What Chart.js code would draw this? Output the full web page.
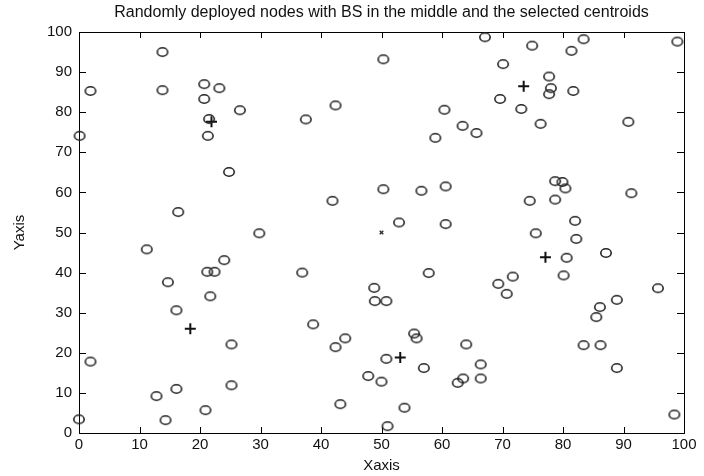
<!DOCTYPE html>
<html>
<head>
<meta charset="utf-8">
<title>Randomly deployed nodes</title>
<script src="https://cdn.jsdelivr.net/npm/chart.js@4.4.1/dist/chart.umd.min.js"></script>
<style>
    html, body { margin: 0; padding: 0; background: #fff; }
</style>
</head>
<body>
<canvas id="nodeChart" width="704" height="476"></canvas>
<script>
// node positions
const nodeX = [13.8, 1.9, 13.8, 20.7, 23.2, 20.7, 26.6, 21.5, 21.3, 0.1,
               37.5, 42.4, 24.8, 41.9, 16.4, 29.8, 50.3, 67.1, 74.9, 83.4,
               81.4, 98.9, 70.1, 77.7, 78.0, 77.7, 81.7, 69.6, 73.1, 60.4,
               76.3, 90.8, 63.4, 65.7, 58.9, 50.3, 56.6, 60.6, 78.7, 79.9,
               80.4, 91.3, 74.5, 78.7, 52.9, 60.6, 82.0, 75.5, 82.2, 80.6,
               87.1, 57.8, 71.7, 80.1, 69.3, 70.7, 48.8, 48.9, 50.8, 95.7,
               88.9, 86.1, 85.5, 55.4, 55.8, 64.0, 83.4, 86.2, 50.8, 57.0,
               66.4, 88.9, 47.8, 50.0, 63.5, 62.6, 66.4, 53.8, 51.0, 98.4,
               11.2, 24.0, 21.2, 22.4, 36.9, 14.7, 21.7, 16.1, 38.7, 25.2,
               42.4, 44.0, 1.9, 16.1, 25.2, 12.8, 20.9, 14.3, 0.0, 43.2];
const nodeY = [95.0, 85.3, 85.5, 87.0, 86.0, 83.3, 80.5, 78.3, 74.1, 74.1,
               78.2, 81.7, 65.1, 57.9, 55.1, 49.8, 93.2, 98.7, 96.6, 98.2,
               95.3, 97.6, 92.0, 88.9, 86.0, 84.5, 85.3, 83.3, 80.8, 80.6,
               77.1, 77.6, 76.6, 74.8, 73.6, 60.8, 60.4, 61.5, 62.8, 62.6,
               61.0, 59.8, 57.9, 58.2, 52.5, 52.1, 52.9, 49.8, 48.4, 43.7,
               44.9, 39.9, 39.0, 39.3, 37.2, 34.7, 36.2, 32.9, 32.9, 36.1,
               33.2, 31.4, 28.9, 24.8, 23.6, 22.1, 21.9, 21.9, 18.5, 16.2,
               17.1, 16.2, 14.2, 12.8, 13.6, 12.5, 13.6, 6.3, 1.7, 4.6,
               45.8, 43.1, 40.2, 40.2, 40.0, 37.6, 34.1, 30.6, 27.1, 22.1,
               21.4, 23.6, 17.8, 11.0, 11.9, 9.2, 5.7, 3.2, 3.4, 7.2];

// selected centroids
const centroidX = [21.9, 73.5, 77.1, 18.4, 53.1];
const centroidY = [77.6, 86.5, 43.8, 26.0, 18.8];

// base station
const bsX = [50];
const bsY = [50];

const axisTicks = [0, 10, 20, 30, 40, 50, 60, 70, 80, 90, 100];

const chartTitle = 'Randomly deployed nodes with BS in the middle and the selected centroids';
const fontFamily = "'Liberation Sans', Arial, Helvetica, sans-serif";
const inkColor = '#111';

// open circle, a bit wider than tall like the source image
const circleMark = document.createElement('canvas');
circleMark.width = 14;
circleMark.height = 12;
const cm = circleMark.getContext('2d');
cm.strokeStyle = '#222';
cm.lineWidth = 1.6;
cm.beginPath();
cm.ellipse(7, 6, 5.2, 4.2, 0, 0, Math.PI * 2);
cm.stroke();

function toPoints(xs, ys) {
    return xs.map((x, i) => ({ x: x, y: ys[i] }));
}

function useTicks(scale) {
    scale.ticks = axisTicks.map(v => ({ value: v }));
}

// box around plot area plus inward tick marks on all four sides
const boxTicks = {
    id: 'boxTicks',
    beforeDatasetsDraw(chart) {
        const { ctx, chartArea: a, scales } = chart;
        ctx.save();
        ctx.strokeStyle = '#000';
        ctx.lineWidth = 1;
        ctx.beginPath();
        scales.x.ticks.forEach(t => {
            const px = Math.round(scales.x.getPixelForValue(t.value)) + 0.5;
            ctx.moveTo(px, a.bottom);
            ctx.lineTo(px, a.bottom - 6);
            ctx.moveTo(px, a.top);
            ctx.lineTo(px, a.top + 6);
        });
        scales.y.ticks.forEach(t => {
            const py = Math.round(scales.y.getPixelForValue(t.value)) + 0.5;
            ctx.moveTo(a.left, py);
            ctx.lineTo(a.left + 7, py);
            ctx.moveTo(a.right, py);
            ctx.lineTo(a.right - 7, py);
        });
        ctx.stroke();
        ctx.strokeRect(Math.round(a.left) + 0.5, Math.round(a.top) + 0.5,
                       Math.round(a.right - a.left), Math.round(a.bottom - a.top));
        ctx.restore();
    }
};

const ctx = document.getElementById('nodeChart').getContext('2d');
const nodeChart = new Chart(ctx, {
    type: 'scatter',
    data: {
        datasets: [{
            label: 'Nodes',
            data: toPoints(nodeX, nodeY),
            pointStyle: circleMark,
            pointRadius: 6,
            clip: false
        }, {
            label: 'Centroids',
            data: toPoints(centroidX, centroidY),
            pointStyle: 'cross',
            pointRadius: 5.5,
            borderWidth: 2,
            borderColor: '#111',
            clip: false
        }, {
            label: 'BS',
            data: toPoints(bsX, bsY),
            pointStyle: 'crossRot',
            pointRadius: 2.5,
            borderWidth: 1.5,
            borderColor: '#333',
            clip: false
        }]
    },
    options: {
        responsive: false,
        animation: false,
        devicePixelRatio: 1,
        layout: { padding: { left: 0, right: 20, top: 0, bottom: 0 } },
        plugins: {
            legend: { display: false },
            tooltip: { enabled: false }
        },
        scales: {
            x: {
                type: 'linear',
                position: 'bottom',
                min: 0,
                max: 100,
                afterBuildTicks: useTicks,
                afterFit: s => { s.height = 43; },
                grid: { display: false, drawTicks: false },
                border: { display: false },
                ticks: {
                    padding: 3,
                    color: inkColor,
                    autoSkip: false,
                    maxRotation: 0,
                    font: { family: fontFamily, size: 15 }
                },
                title: {
                    display: true,
                    text: 'Xaxis',
                    color: inkColor,
                    font: { family: fontFamily, size: 15 },
                    padding: { top: 0, bottom: 1 }
                }
            },
            y: {
                type: 'linear',
                position: 'left',
                min: 0,
                max: 100,
                afterBuildTicks: useTicks,
                afterFit: s => { s.width = 79; },
                grid: { display: false, drawTicks: false },
                border: { display: false },
                ticks: {
                    padding: 7,
                    color: inkColor,
                    autoSkip: false,
                    font: { family: fontFamily, size: 15 }
                },
                title: {
                    display: true,
                    text: 'Yaxis',
                    color: inkColor,
                    font: { family: fontFamily, size: 15 },
                    padding: { top: 11, bottom: 0 }
                }
            },
            // top axis only carries the title so it centres over the plot
            titleAxis: {
                type: 'linear',
                position: 'top',
                min: 0,
                max: 100,
                afterFit: s => { s.height = 32; },
                grid: { display: false, drawTicks: false },
                border: { display: false },
                ticks: { display: false },
                title: {
                    display: true,
                    text: chartTitle,
                    color: inkColor,
                    font: { family: fontFamily, size: 16 },
                    padding: { top: 3, bottom: 0 }
                }
            }
        }
    },
    plugins: [boxTicks]
});
</script>
</body>
</html>
